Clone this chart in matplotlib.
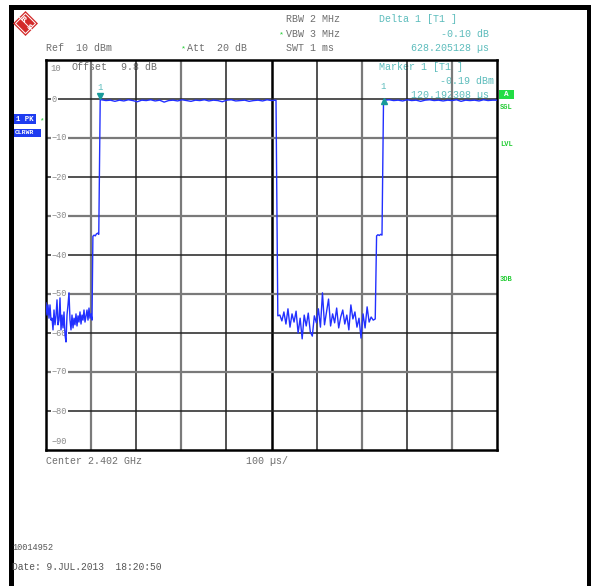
import matplotlib
matplotlib.use('Agg')
import matplotlib.pyplot as plt
import numpy as np
from matplotlib.patches import Rectangle, Polygon

W, H = 591, 586
mono = 'Liberation Mono'
grey = '#6e6e6e'
teal = '#5cbcbc'
green = '#22cc33'
blue = '#2230ff'

# analyzer settings
ref_level = 10
att = 20
offset = 9.8
rbw = 2
vbw = 3
swt = 1
center_ghz = 2.402
time_div = 100

# trace, dBm (zero span, 1 ms sweep)
noise_a = [-52.3, -55.4, -52.8, -56.2, -52.8, -56.7, -56.2, -59.2, -54.1, -57.9,
           -55.6, -51.5, -57.9, -56.7, -51.0, -59.2, -55.4, -58.7, -54.6, -60.5,
           -62.3, -55.4, -52.8, -49.7, -56.7, -59.2, -55.4, -58.7, -56.2, -57.9,
           -55.1, -58.2, -55.6, -57.2, -54.6, -57.7, -55.4, -56.7, -54.1, -57.2,
           -55.6, -54.1, -56.7, -53.6, -56.2, -55.1, -56.7]
step_a = [-35.2, -34.9, -35.1, -34.6, -34.4, -34.7]
carrier_a = [-0.2, -0.4, -0.3, -0.6, -0.3, -0.5, -0.2, -0.4, -0.7, -0.3,
             -0.4, -0.2, -0.5, -0.3, -0.8, -0.4, -0.3, -0.5, -0.2, -0.4,
             -0.6, -0.3, -0.4, -0.2, -0.5, -0.3, -0.4, -0.7, -0.3, -0.2,
             -0.5, -0.4, -0.3, -0.6, -0.4, -0.3, -0.5, -0.2, -0.4, -0.3]
noise_b = [-55.6, -55.4, -56.9, -54.6, -57.7, -53.8, -58.5, -55.1, -57.2, -54.4,
           -60.0, -56.2, -61.5, -55.4, -58.2, -54.9, -59.7, -60.8, -55.6, -57.4,
           -53.8, -58.5, -49.7, -57.9, -54.6, -51.3, -58.2, -55.1, -57.4, -53.6,
           -58.7, -55.9, -54.1, -57.7, -55.4, -59.2, -52.8, -56.4, -54.6, -58.5,
           -56.2, -61.3, -55.1, -58.7, -53.3, -57.2, -55.9, -56.7, -56.4]
step_b = [-35.1, -34.8, -35.0, -34.7, -34.9]
carrier_b = [-0.3, -0.2, -0.4, -0.3, -0.5, -0.2, -0.4, -0.3, -0.6, -0.3,
             -0.2, -0.4, -0.3, -0.5, -0.3, -0.4, -0.2, -0.6, -0.3, -0.4,
             -0.3, -0.5, -0.2, -0.4, -0.3, -0.3]

# markers (µs, dBm)
m1_time = 120.192308
m1_level = -0.19
d1_time = 748.397436
d1_level = -0.29

t = np.concatenate([np.linspace(0, 102, len(noise_a)),
                    np.linspace(104, 117, len(step_a)),
                    [m1_time],
                    np.linspace(123, 510, len(carrier_a)),
                    np.linspace(514, 730, len(noise_b)),
                    np.linspace(733, 745, len(step_b)),
                    [d1_time],
                    np.linspace(751, 1000, len(carrier_b))])
lvl = np.concatenate([noise_a, step_a, [m1_level], carrier_a,
                      noise_b, step_b, [d1_level], carrier_b])

fig = plt.figure(figsize=(W / 100, H / 100), dpi=100)

# pixel canvas for the screen furniture
bg = fig.add_axes([0, 0, 1, 1])
bg.set_xlim(0, W)
bg.set_ylim(H, 0)
bg.axis('off')

bg.add_patch(Rectangle((9, 5), W - 9, 5, color='black', lw=0))
bg.add_patch(Rectangle((9, 5), 4.5, H - 5, color='black', lw=0))
bg.add_patch(Rectangle((587, 5), 4, H - 5, color='black', lw=0))

# R&S logo
cx, cy, r = 25.5, 23.5, 12.5
bg.add_patch(Polygon([(cx, cy - r), (cx + r, cy), (cx, cy + r), (cx - r, cy)],
                     closed=True, color='#d32a2a', lw=0))
r2 = 10
bg.add_patch(Polygon([(cx, cy - r2), (cx + r2, cy), (cx, cy + r2), (cx - r2, cy)],
                     closed=True, fill=False, ec='white', lw=0.7))
bg.plot([cx - 6, cx + 6], [cy - 6, cy + 6], color='white', lw=0.7)
bg.text(cx - 3, cy - 4, 'R', color='white', fontsize=5, fontweight='bold',
        ha='center', va='center', rotation=-40)
bg.text(cx + 3.5, cy + 4, 'S', color='white', fontsize=5, fontweight='bold',
        ha='center', va='center', rotation=-40)

def txt(x, y, s, color=grey, size=7.2, ha='left', **kw):
    bg.text(x, y, s, color=color, fontsize=size, family=mono, ha=ha, va='center', **kw)

txt(286, 19.5, f'RBW {rbw} MHz')
txt(286, 34, f'VBW {vbw} MHz')
txt(286, 48, f'SWT {swt} ms')
txt(46.5, 48, f'Ref  {ref_level} dBm')
txt(187, 48, f'Att  {att} dB')
for ax_, ay in [(282, 34), (183, 48)]:
    txt(ax_, ay + 1, '*', color=green, size=6, ha='center')

txt(379, 19.5, 'Delta 1 [T1 ]', color=teal)
txt(489, 34, f'{d1_level - m1_level:.2f} dB', color=teal, ha='right')
txt(489, 48, f'{d1_time - m1_time:.6f} µs', color=teal, ha='right')
txt(379, 67.5, 'Marker 1 [T1 ]', color=teal)
txt(494, 80.5, f'{m1_level:.2f} dBm', color=teal, ha='right')
txt(489, 95, f'{m1_time:.6f} µs', color=teal, ha='right')
txt(71, 67.5, 'Offset')
txt(121, 67.5, f'{offset} dB')

txt(46.5, 461, f'Center {center_ghz} GHz')
txt(246, 461, f'{time_div} µs/')
txt(12.5, 548, '10014952', size=6.2, color='#555555')
txt(12.5, 567, 'Date: 9.JUL.2013  18:20:50', size=6.9, color='#555555')

# trace / mode indicators
bg.add_patch(Rectangle((14, 114), 22, 10, color='#1e3cf0', lw=0))
txt(16, 119.5, '1 PK', color='white', size=5.3, fontweight='bold')
txt(41, 121, '*', color=green, size=5.5, ha='center')
bg.add_patch(Rectangle((14, 129), 27, 8, color='#1e3cf0', lw=0))
txt(15, 133, 'CLRWR', color='white', size=4.6, fontweight='bold')

bg.add_patch(Rectangle((499, 89.5), 15, 9.5, color='#22dd44', lw=0))
txt(506.5, 94.5, 'A', color='white', size=5.5, ha='center', fontweight='bold')
txt(500, 107.5, 'SGL', color=green, size=5, fontweight='bold')
txt(500, 145, 'LVL', color=green, size=5, fontweight='bold')
txt(500, 279.5, '3DB', color=green, size=5, fontweight='bold')

# measurement grid
L, R, T, B = 46, 497, 60, 450
ax = fig.add_axes([L / W, 1 - B / H, (R - L) / W, (B - T) / H])
ax.set_facecolor('none')
ax.set_xlim(0, 1000)
ax.set_ylim(-90, 10)
ax.set_xticks([])
ax.set_yticks([])
for s in ax.spines.values():
    s.set_linewidth(1.8)
    s.set_color('black')

for x in range(100, 1000, 100):
    if x == 500:
        ax.axvline(x, color='black', lw=1.8, zorder=1)
    elif x in (100, 300, 700, 900):
        ax.axvline(x, color='#7a7a7a', lw=1.6, zorder=1)
    else:
        ax.axvline(x, color='#222222', lw=1.1, zorder=1)
for y in range(0, -90, -10):
    if (y // 10) % 2 == 0:
        ax.axhline(y, color='#222222', lw=1.1, zorder=1)
    else:
        ax.axhline(y, color='#7a7a7a', lw=1.6, zorder=1)

ylabels = list(range(0, -90, -10))
for y in ylabels:
    ax.text(13, y, str(y).replace('-', '−'), color='#8a8a8a', fontsize=6.2, family=mono,
            ha='left', va='center', zorder=2,
            bbox=dict(facecolor='white', edgecolor='none', pad=0.6))
ax.text(9, 7.9, '10', color='#8a8a8a', fontsize=6.4, family=mono, ha='left', va='center', zorder=2)
ax.text(13, -87.7, '−90', color='#8a8a8a', fontsize=6.2, family=mono, ha='left', va='center', zorder=2)

ax.plot(t, lvl, color=blue, lw=1.0, zorder=3)

# marker symbols
ax.plot([m1_time], [m1_level + 1.0], marker='v', ms=5, color='#189a9a', zorder=4, ls='none')
ax.plot([d1_time], [d1_level - 0.1], marker='^', ms=5, color='#189a9a', zorder=4, ls='none')
ax.text(m1_time, m1_level + 3.1, '1', color=teal, fontsize=6.5, family=mono, ha='center', va='center', zorder=4)
ax.text(d1_time, d1_level + 3.4, '1', color=teal, fontsize=6.5, family=mono, ha='center', va='center', zorder=4)

plt.savefig('out.png', dpi=100)
